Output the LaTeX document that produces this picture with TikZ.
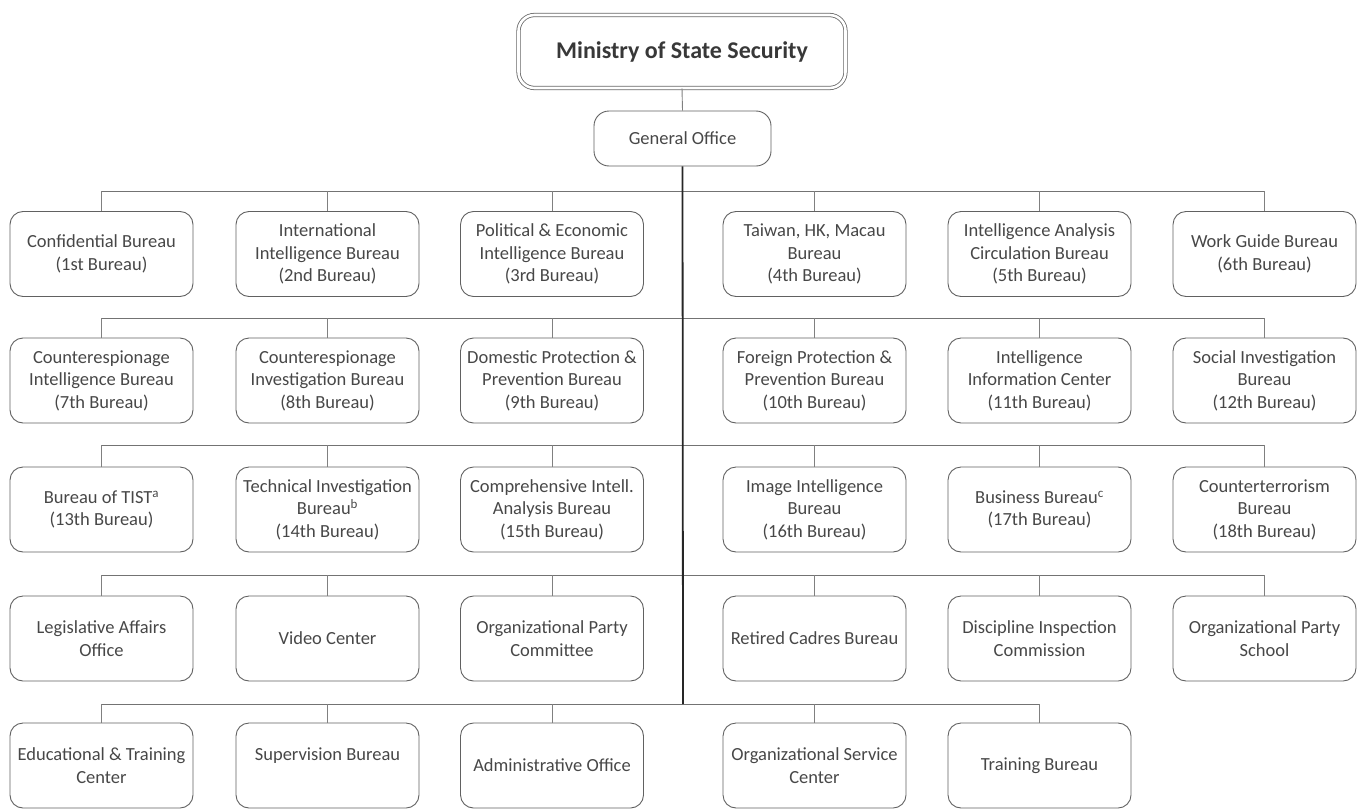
\documentclass[tikz,border=0pt]{standalone}
\usepackage{fontspec}
\setmainfont{Carlito}
\begin{document}
\begin{tikzpicture}[x=1pt,y=-1pt,
  txt/.style={font=\fontsize{18.5}{22.5}\selectfont, text=black!72},
  unit/.style={txt, draw=black!62, line width=0.9pt, rounded corners=13pt,
    minimum width=183pt, minimum height=85pt, align=center, inner sep=1pt},
  topbox/.style={draw=black!60, double=white, double distance=2.6pt, line width=0.8pt,
    rounded corners=16pt, minimum width=327pt, minimum height=73pt,
    font=\fontsize{24}{28}\selectfont\bfseries, text=black!78},
  genbox/.style={txt, draw=black!62, line width=0.9pt, rounded corners=15pt,
    minimum width=177pt, minimum height=55pt},
  bus/.style={draw=black!55, line width=1pt},
  spine/.style={draw=black!85, line width=1.8pt},
  stub/.style={draw=black!50, line width=0.9pt}]
\useasboundingbox (0,0) rectangle (1364,808);

\node[topbox] (mss) at (682,51.5) {Ministry of State Security};
\node[genbox] (gen) at (682.5,138.5) {General Office};

% row 1
\node[unit] (r1c1) at (101.5,254) {Confidential Bureau\\(1st Bureau)};
\node[unit] (r1c2) at (327.5,254) {International\\Intelligence Bureau\\(2nd Bureau)};
\node[unit] (r1c3) at (552,254) {Political \& Economic\\Intelligence Bureau\\(3rd Bureau)};
\node[unit] (r1c4) at (814.5,254) {Taiwan, HK, Macau\\Bureau\\(4th Bureau)};
\node[unit] (r1c5) at (1039.5,254) {Intelligence Analysis\\Circulation Bureau\\(5th Bureau)};
\node[unit] (r1c6) at (1264.5,254) {Work Guide Bureau\\(6th Bureau)};
% row 2
\node[unit] (r2c1) at (101.5,380.5) {Counterespionage\\Intelligence Bureau\\(7th Bureau)};
\node[unit] (r2c2) at (327.5,380.5) {Counterespionage\\Investigation Bureau\\(8th Bureau)};
\node[unit] (r2c3) at (552,380.5) {Domestic Protection \&\\Prevention Bureau\\(9th Bureau)};
\node[unit] (r2c4) at (814.5,380.5) {Foreign Protection \&\\Prevention Bureau\\(10th Bureau)};
\node[unit] (r2c5) at (1039.5,380.5) {Intelligence\\Information Center\\(11th Bureau)};
\node[unit] (r2c6) at (1264.5,380.5) {Social Investigation\\Bureau\\(12th Bureau)};
% row 3
\node[unit] (r3c1) at (101.5,509.5) {Bureau of TIST\textsuperscript{a}\\(13th Bureau)};
\node[unit] (r3c2) at (327.5,509.5) {Technical Investigation\\Bureau\textsuperscript{b}\\(14th Bureau)};
\node[unit] (r3c3) at (552,509.5) {Comprehensive Intell.\\Analysis Bureau\\(15th Bureau)};
\node[unit] (r3c4) at (814.5,509.5) {Image Intelligence\\Bureau\\(16th Bureau)};
\node[unit] (r3c5) at (1039.5,509.5) {Business Bureau\textsuperscript{c}\\(17th Bureau)};
\node[unit] (r3c6) at (1264.5,509.5) {Counterterrorism\\Bureau\\(18th Bureau)};
% row 4
\node[unit] (r4c1) at (101.5,638.5) {Legislative Affairs\\Office};
\node[unit] (r4c2) at (327.5,638.5) {Video Center};
\node[unit] (r4c3) at (552,638.5) {Organizational Party\\Committee};
\node[unit] (r4c4) at (814.5,638.5) {Retired Cadres Bureau};
\node[unit] (r4c5) at (1039.5,638.5) {Discipline Inspection\\Commission};
\node[unit] (r4c6) at (1264.5,638.5) {Organizational Party\\School};
% row 5
\node[unit] (r5c1) at (101.5,765.5) {Educational \& Training\\Center};
\node[unit] (r5c2) at (327.5,765.5) {Supervision Bureau\\~};
\node[unit] (r5c3) at (552,765.5) {Administrative Office};
\node[unit] (r5c4) at (814.5,765.5) {Organizational Service\\Center};
\node[unit] (r5c5) at (1039.5,765.5) {Training Bureau};

% bus coordinates
\coordinate (b1) at (683,191);
\coordinate (b2) at (683,318);
\coordinate (b3) at (683,445);
\coordinate (b4) at (683,575);
\coordinate (b5) at (683,704);

\draw[stub] (mss.south) -- (gen.north);

\foreach \r/\last in {1/6,2/6,3/6,4/6,5/5}{
  \draw[bus] (r\r c1.north |- b\r) -- (r\r c\last.north |- b\r);
  \foreach \c in {1,...,\last}{
    \draw[stub] (r\r c\c.north) -- (r\r c\c.north |- b\r);
  }
}
\draw[spine] (gen.south) -- (b5);
\end{tikzpicture}
\end{document}
